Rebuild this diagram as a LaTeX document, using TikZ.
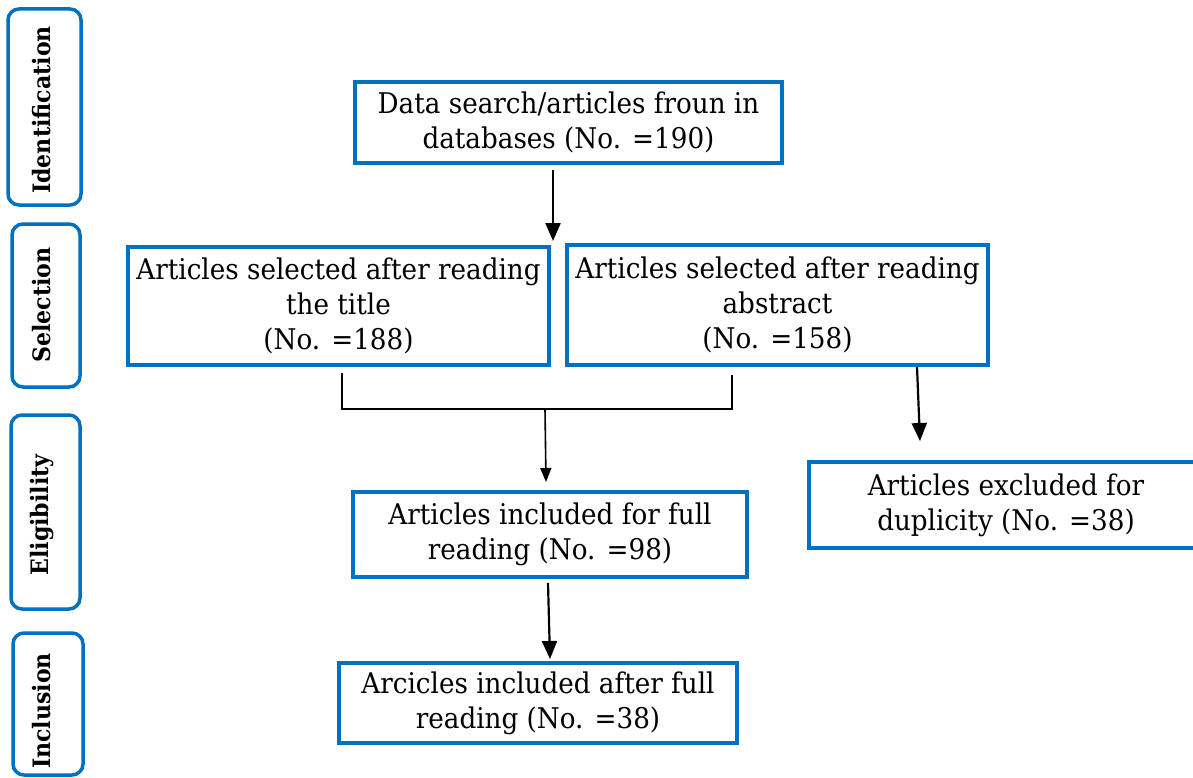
\documentclass[tikz,border=0pt]{standalone}
\usepackage{fontspec}
\setmainfont{DejaVu Serif}[FakeStretch=0.92]
\usetikzlibrary{arrows.meta}
\definecolor{boxblue}{HTML}{0070C0}
\tikzset{
  mainbox/.style={draw=boxblue, line width=3.5pt, align=center, inner sep=0pt,
    font=\fontsize{28.5}{35}\selectfont},
  sidebox/.style={draw=boxblue, line width=3.5pt, rounded corners=11pt, inner sep=0pt},
  sidelabel/.style={rotate=90, font=\bfseries\fontsize{24}{28}\selectfont, inner sep=0pt},
  arrowline/.style={line width=2.2pt, -{Triangle[width=15pt,length=18pt]}},
  bracketline/.style={line width=1.6pt}
}
\begin{document}
\begin{tikzpicture}[x=1pt,y=-1pt]
\useasboundingbox (0,0) rectangle (1193,778);
% side boxes
\node[sidebox, minimum width=73pt, minimum height=196pt] (ident) at (44.5,107) {};
\node[sidelabel] (identl) at (42,110) {Identification};
\node[sidebox, minimum width=68pt, minimum height=163pt] (sel) at (46,305.5) {};
\node[sidelabel] (sell) at (42,305) {Selection};
\node[sidebox, minimum width=69pt, minimum height=194pt] (elig) at (45.5,512) {};
\node[sidelabel] (eligl) at (42,515) {Eligibility};
\node[sidebox, minimum width=70pt, minimum height=142pt] (incl) at (48,704) {};
\node[sidelabel] (incll) at (42,711) {Inclusion};
% main boxes
\node[mainbox, minimum width=427pt, minimum height=81pt] (search) at (568.5,122.5)
  {Data search/articles froun in\\databases (No. =190)};
\node[mainbox, minimum width=421pt, minimum height=118pt] (title) at (338.5,306)
  {Articles selected after reading\\the title\\(No. =188)};
\node[mainbox, minimum width=421pt, minimum height=120pt] (abstract) at (777.5,305)
  {Articles selected after reading\\abstract\\(No. =158)};
\node[mainbox, minimum width=394pt, minimum height=85pt] (full) at (550,534.5)
  {Articles included for full\\reading (No. =98)};
\node[mainbox, minimum width=394pt, minimum height=86pt] (excl) at (1006,505)
  {Articles excluded for\\duplicity (No. =38)};
\node[mainbox, minimum width=398pt, minimum height=80pt] (final) at (538,703)
  {Arcicles included after full\\reading (No. =38)};
% connectors
\coordinate (a1) at (553,170);
\coordinate (a2) at (553,241);
\draw[arrowline] (a1) -- (a2);
\coordinate (bl1) at (342,373);
\coordinate (bl2) at (342,409);
\coordinate (br1) at (732,375);
\coordinate (br2) at (732,409);
\draw[bracketline] (bl1) -- (bl2) -- (br2) -- (br1);
\coordinate (m1) at (545,409);
\coordinate (m2) at (546,482);
\draw[line width=1.6pt, -{Triangle[width=11pt,length=14pt]}] (m1) -- (m2);
\coordinate (e1) at (917,367);
\coordinate (e2) at (920,441);
\draw[arrowline] (e1) -- (e2);
\coordinate (f1) at (548,583);
\coordinate (f2) at (550,659);
\draw[arrowline] (f1) -- (f2);
\end{tikzpicture}
\end{document}
